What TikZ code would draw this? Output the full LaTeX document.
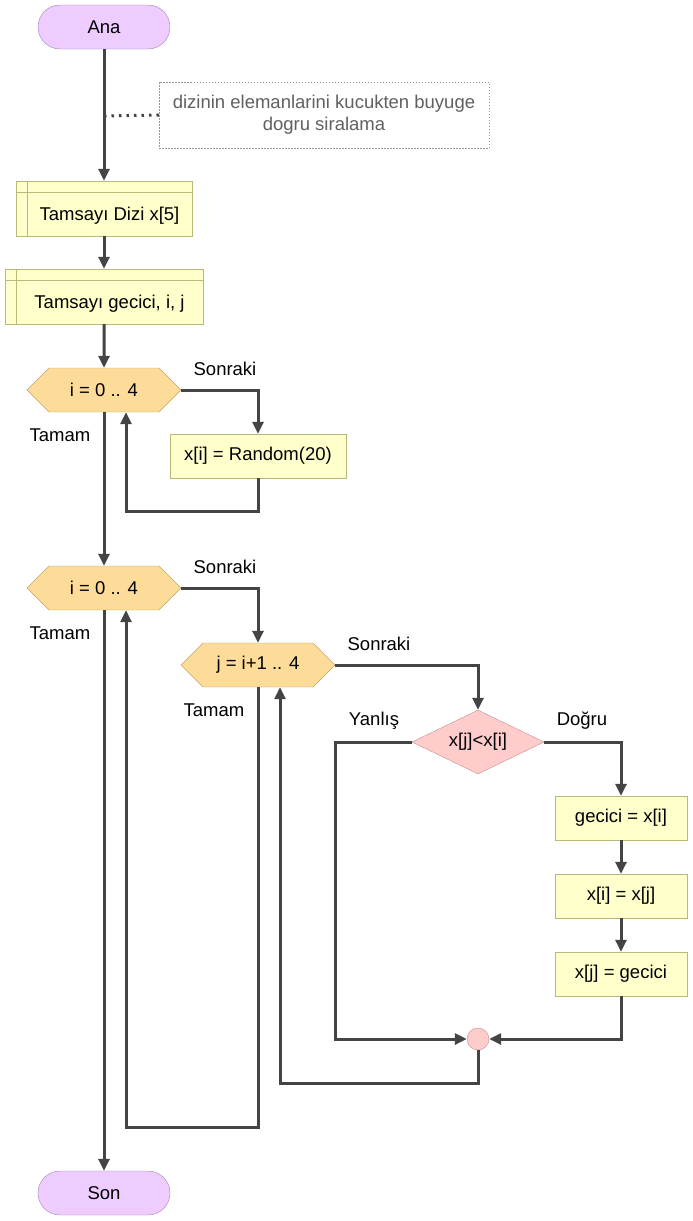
\documentclass[tikz,border=0pt]{standalone}
\usepackage{fontspec}
\setmainfont{Liberation Sans}
\usetikzlibrary{arrows.meta, shapes.geometric, shapes.symbols}

\definecolor{flowclr}{HTML}{444444}
\definecolor{termfill}{HTML}{EECCFF}
\definecolor{termline}{HTML}{A383B3}
\definecolor{boxfill}{HTML}{FFFFCC}
\definecolor{boxline}{HTML}{B8B878}
\definecolor{loopfill}{HTML}{FDDC9A}
\definecolor{loopline}{HTML}{C4A468}
\definecolor{condfill}{HTML}{FFCCCC}
\definecolor{condline}{HTML}{C48E8E}

\tikzset{
  terminal/.style={draw=termline, fill=termfill, rounded corners=22pt, minimum width=132pt, minimum height=44pt, inner sep=0pt},
  declbox/.style={draw=boxline, fill=boxfill, minimum height=55pt, inner sep=0pt, text height=28pt, text depth=4pt,
    path picture={
      \draw[boxline] ([xshift=11pt]path picture bounding box.north west) -- ([xshift=11pt]path picture bounding box.south west);
      \draw[boxline] ([yshift=-11pt]path picture bounding box.north west) -- ([yshift=-11pt]path picture bounding box.north east);
    }},
  procbox/.style={draw=boxline, fill=boxfill, minimum height=44pt, inner sep=0pt},
  loophex/.style={draw=loopline, fill=loopfill, shape=signal, signal to=east and west, signal pointer angle=90, minimum width=154pt, minimum height=44pt, inner sep=0pt},
  cond/.style={draw=condline, fill=condfill, diamond, aspect=2.0625, minimum width=132pt, minimum height=64pt, inner sep=0pt},
  merge/.style={draw=condline, fill=condfill, circle, minimum size=22pt, inner sep=0pt},
  note/.style={draw=gray!80, dash pattern=on 1.5pt off 1.5pt, text=flowclr!85, align=center, minimum width=330pt, minimum height=66pt},
  flow/.style={draw=flowclr, line width=3pt, ->},
  dotline/.style={draw=flowclr, line width=3pt, dash pattern=on 2.5pt off 5pt},
  lbl/.style={inner sep=0pt}
}

\begin{document}
\begin{tikzpicture}[x=1pt, y=1pt, >={Triangle[length=12pt,width=11pt]}, font=\fontsize{18.5}{22}\selectfont]
  \useasboundingbox (0,0) rectangle (693,-1221);

  % terminals
  \node[terminal] (start) at (104,-27) {Ana};
  \node[terminal] (stop) at (104,-1193) {Son};

  % comment
  \node[note] (cmt) at (324,-115) {dizinin elemanlarini kucukten buyuge\\dogru siralama};
  \coordinate (cm) at (104,-116);

  % declarations
  \node[declbox, minimum width=176pt] (dec1) at (104,-208.5) {\hspace*{11pt}Tamsayı Dizi x[5]};
  \node[declbox, minimum width=198pt] (dec2) at (104,-296.5) {\hspace*{11pt}Tamsayı gecici, i, j};

  % first loop
  \node[loophex] (loopa) at (104,-390) {i = 0 .. 4};
  \node[procbox, minimum width=176pt] (rnd) at (258,-456) {x[i] = Random(20)};
  \node[lbl] (nexta) at (225,-369) {Sonraki};
  \node[lbl] (donea) at (60,-435) {Tamam};

  % second loop
  \node[loophex] (loopb) at (104,-588) {i = 0 .. 4};
  \node[lbl] (nextb) at (225,-567) {Sonraki};
  \node[lbl] (doneb) at (60,-633) {Tamam};

  % inner loop
  \node[loophex] (loopc) at (258,-665) {j = i+1 .. 4};
  \node[lbl] (nextc) at (379,-644) {Sonraki};
  \node[lbl] (donec) at (214,-710) {Tamam};

  % comparison and swap
  \node[cond] (cmp) at (478,-742) {x[j]<x[i]};
  \node[lbl] (nolbl) at (374,-721) {Yanlış};
  \node[lbl] (yeslbl) at (582,-721) {Doğru};
  \node[procbox, minimum width=132pt] (swa) at (621,-818) {gecici = x[i]};
  \node[procbox, minimum width=132pt] (swb) at (621,-896) {x[i] = x[j]};
  \node[procbox, minimum width=132pt] (swc) at (621,-974) {x[j] = gecici};
  \node[merge] (join) at (478,-1039) {};

  % bend points
  \coordinate (rback) at (258,-511);
  \coordinate (nback) at (335,-1039);
  \coordinate (jback) at (478,-1083);
  \coordinate (iback) at (258,-1127);

  % connectors
  \draw[flow] (start) -- (dec1);
  \draw[dotline] (cm) -- (cmt.west);
  \draw[flow] (dec1) -- (dec2);
  \draw[flow] (dec2) -- (loopa);
  \draw[flow] (loopa.east) -| (rnd.north);
  \draw[flow] (rnd.south) -- (rback) -| ([xshift=22pt]loopa.south);
  \draw[flow] (loopa.south) -- (loopb.north);
  \draw[flow] (loopb.east) -| (loopc.north);
  \draw[flow] (loopc.east) -| (cmp.north);
  \draw[flow] (cmp.east) -| (swa.north);
  \draw[flow] (swa) -- (swb);
  \draw[flow] (swb) -- (swc);
  \draw[flow] (swc.south) |- (join.east);
  \draw[flow] (cmp.west) -| (nback) -- (join.west);
  \draw[flow] (join.south) -- (jback) -| ([xshift=22pt]loopc.south);
  \draw[flow] (loopc.south) -- (iback) -| ([xshift=22pt]loopb.south);
  \draw[flow] (loopb.south) -- (stop.north);
\end{tikzpicture}
\end{document}
